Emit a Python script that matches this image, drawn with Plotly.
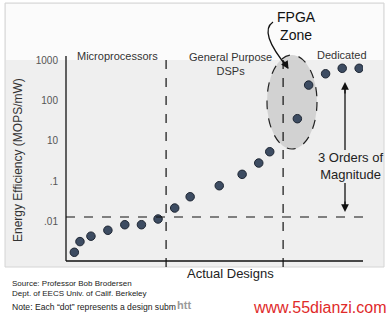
import plotly.graph_objects as go
import math

# ---- data ----
design_x = [2.8, 4.7, 8.4, 14.1, 19.8, 25.4, 31.0, 36.6, 41.8, 51.6, 59.3, 64.9, 68.6, 77.9, 81.7, 87.4, 93.0, 98.7]
efficiency = [0.0174, 0.032, 0.0436, 0.061, 0.0838, 0.0838, 0.116, 0.217, 0.413, 0.774, 1.48, 2.82, 5.37, 35.3, 240, 457, 624, 624]
tick_vals = [1000, 100, 10, 1, 0.1, 0.01]
tick_text = ["1000", "100", "10", ".1", ".01", ".001"]
divider_x = [33.7, 73.1]
threshold_y = 0.13

W, H = 388, 318
L, R, T, B = 66, 25, 56, 57
PW, PH = W - L - R, H - T - B

def px(x):
    return (x - L) / PW

def py(y):
    return (H - B - y) / PH

YR = [-1.975, 3.1]

def ylog_paper(v):
    return (math.log10(v) - YR[0]) / (YR[1] - YR[0])

FONT = "Arial, Liberation Sans, sans-serif"

fig = go.Figure()
fig.add_trace(go.Scatter(
    x=design_x, y=efficiency, mode="markers",
    marker=dict(size=8.5, color="#3d4c62", line=dict(color="#1e2633", width=1)),
    showlegend=False, hoverinfo="skip"))

shapes = []
# background panel
shapes.append(dict(type="rect", xref="paper", yref="paper", x0=px(5), x1=px(384), y0=py(267), y1=py(3),
                   fillcolor="#efefef", line=dict(color="#d4d4d4", width=1), layer="below"))
shapes.append(dict(type="rect", xref="paper", yref="paper", x0=px(6), x1=px(383), y0=py(60), y1=py(4),
                   fillcolor="#fbfbfb", line=dict(width=0), layer="below"))
# FPGA ellipse
shapes.append(dict(type="circle", xref="paper", yref="paper", x0=px(267), x1=px(317), y0=py(149), y1=py(55),
                   fillcolor="rgba(200,200,200,0.75)", line=dict(color="#222", width=1.2, dash="dash"), layer="below"))
# vertical dividers
for dx in divider_x:
    shapes.append(dict(type="line", xref="x", yref="paper", x0=dx, x1=dx, y0=py(267), y1=py(60),
                       line=dict(color="#111", width=1.2, dash="dash")))
# horizontal threshold
shapes.append(dict(type="line", xref="paper", yref="paper", x0=0, x1=1, y0=ylog_paper(threshold_y), y1=ylog_paper(threshold_y),
                   line=dict(color="#111", width=1.2, dash="dash")))
# axes lines
shapes.append(dict(type="line", xref="paper", yref="paper", x0=0, x1=0, y0=0, y1=1, line=dict(color="#111", width=1.3)))
shapes.append(dict(type="line", xref="paper", yref="paper", x0=0, x1=1, y0=0, y1=0, line=dict(color="#111", width=1.3)))
# curved FPGA arrow
shapes.append(dict(type="path", xref="paper", yref="paper",
                   path=f"M {px(273)},{py(22)} Q {px(258)},{py(32)} {px(288)},{py(68)}",
                   line=dict(color="#111", width=1.3)))
# 3 orders arrows lines
shapes.append(dict(type="line", xref="paper", yref="paper", x0=px(345), x1=px(345), y0=py(150), y1=py(86),
                   line=dict(color="#111", width=1.3)))
shapes.append(dict(type="line", xref="paper", yref="paper", x0=px(345), x1=px(345), y0=py(183), y1=py(208),
                   line=dict(color="#111", width=1.3)))

ann = []
def txt(x, y, s, size, color="#333", xanchor="center", yanchor="middle", angle=0):
    ann.append(dict(x=px(x), y=py(y), xref="paper", yref="paper", text=s, showarrow=False, textangle=angle,
                    font=dict(family=FONT, size=size, color=color), xanchor=xanchor, yanchor=yanchor))

txt(117, 56, "Microprocessors", 11)
txt(230, 64, "General Purpose<br>DSPs", 11)
txt(342, 55, "Dedicated", 11)
txt(296, 26, "FPGA<br>Zone", 14, "#111")
txt(350, 166, "3 Orders of<br>Magnitude", 13, "#222")
txt(230, 273, "Actual Designs", 13, "#222")
txt(18, 160, "Energy Efficiency (MOPS/mW)", 12, "#333", angle=-90)
txt(10, 283, "Source: Professor Bob Brodersen", 8, "#222", "left")
txt(10, 293, "Dept. of EECS Univ. of Calif. Berkeley", 8, "#222", "left")
txt(10, 307, "Note: Each “dot” represents a design subm", 8.6, "#222", "left")
txt(184, 305, "<b>htt</b>", 11, "#9a9a9a")
txt(320, 307, "www.55dianzi.com", 16, "#e02a2a")

# arrowheads
for (x0, y0, x1, y1) in [(283, 60, 288.5, 69), (345, 95, 345, 82), (345, 200, 345, 212)]:
    ann.append(dict(x=px(x1), y=py(y1), ax=x0 - x1, ay=y0 - y1, xref="paper", yref="paper",
                    axref="pixel", ayref="pixel", text="", showarrow=True,
                    arrowhead=2, arrowsize=1.2, arrowwidth=1.3, arrowcolor="#111"))

fig.update_layout(
    width=W, height=H, margin=dict(l=L, r=R, t=T, b=B),
    paper_bgcolor="white", plot_bgcolor="rgba(0,0,0,0)",
    shapes=shapes, annotations=ann,
    xaxis=dict(range=[0, 100], showgrid=False, zeroline=False, showticklabels=False, showline=False),
    yaxis=dict(type="log", range=YR, tickvals=tick_vals, ticktext=tick_text, showgrid=False, zeroline=False,
               showline=False, ticks="outside", ticklen=5, tickcolor="rgba(0,0,0,0)",
               tickfont=dict(family=FONT, size=10, color="#555")),
    font=dict(family=FONT),
)

fig.write_html("out.html")
